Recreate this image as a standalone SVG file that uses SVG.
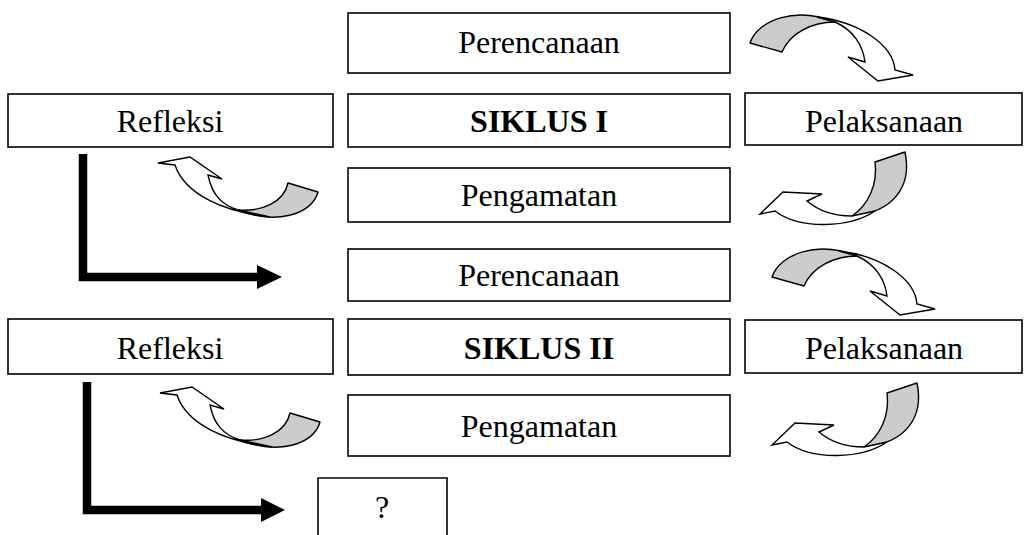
<svg xmlns="http://www.w3.org/2000/svg" xmlns:xlink="http://www.w3.org/1999/xlink" width="1027" height="535" viewBox="0 0 1027 535">
<style>
.box{fill:#fff;stroke:#000;stroke-width:1.6}
.t{font-family:"Liberation Serif","Times New Roman",serif;font-size:32px;fill:#000;text-anchor:middle}
.b{font-weight:bold}
.back{fill:#cccccc;stroke:#000;stroke-width:1.4;stroke-linejoin:round}
.front{fill:#fff;stroke:#000;stroke-width:1.4;stroke-linejoin:miter}
.thick{fill:none;stroke:#000;stroke-width:8.5;stroke-linejoin:miter;stroke-linecap:butt}
</style>
<defs>
<g id="arrA">
<path class="back" d="M750,43 C758,20 795,6 835,22 C812,22 790,33 782,52 Z"/>
<path class="front" d="M817,17 C860,22 893,45 895,70 L913,75 L878,81 L848,57 L865,62 C863,45 853,30 835,22 Z"/>
</g>
<g id="arrB">
<path class="back" d="M875,162 L905,152 C912,185 895,212 852,216 C868,205 878,185 875,162 Z"/>
<path class="front" d="M875,211 C850,228 800,230 775,211 L760,214 L783,192 L822,194 L807,201 C820,212 836,216 852,216 Z"/>
</g>
<g id="arrE">
<path class="back" d="M288,183 L318,192 C312,215 275,225 238,210 C262,212 284,202 288,183 Z"/>
<path class="front" d="M270,217 C225,212 185,195 175,165 L158,163 L190,157 L222,179 L208,175 C212,195 222,205 238,210 Z"/>
</g>
</defs>

<g id="perencanaan1"><rect class="box" x="348" y="13" width="382" height="60"/><text class="t" x="539" y="53">Perencanaan</text></g>
<g id="refleksi1"><rect class="box" x="8" y="94" width="325" height="53"/><text class="t" x="170" y="132">Refleksi</text></g>
<g id="siklus1"><rect class="box" x="348" y="94" width="382" height="53"/><text class="t b" x="539" y="132">SIKLUS I</text></g>
<g id="pelaksanaan1"><rect class="box" x="745" y="93" width="277" height="52"/><text class="t" x="884" y="132">Pelaksanaan</text></g>
<g id="pengamatan1"><rect class="box" x="348" y="168" width="382" height="54"/><text class="t" x="539" y="206">Pengamatan</text></g>
<g id="perencanaan2"><rect class="box" x="348" y="249" width="382" height="52"/><text class="t" x="539" y="286">Perencanaan</text></g>
<g id="refleksi2"><rect class="box" x="8" y="319" width="325" height="55"/><text class="t" x="170" y="359">Refleksi</text></g>
<g id="siklus2"><rect class="box" x="348" y="319" width="382" height="56"/><text class="t b" x="539" y="359">SIKLUS II</text></g>
<g id="pelaksanaan2"><rect class="box" x="745" y="320" width="277" height="53"/><text class="t" x="884" y="359">Pelaksanaan</text></g>
<g id="pengamatan2"><rect class="box" x="348" y="395" width="382" height="61"/><text class="t" x="539" y="437">Pengamatan</text></g>
<g id="next"><path class="box" d="M318,536 V478 H447 V536"/><text class="t" x="382" y="518">?</text></g>

<g id="connectors">
<use xlink:href="#arrA"/>
<use xlink:href="#arrA" transform="translate(22,234)"/>
<use xlink:href="#arrB"/>
<use xlink:href="#arrB" transform="translate(12,231)"/>
<use xlink:href="#arrE"/>
<use xlink:href="#arrE" transform="translate(2,230)"/>
<path class="thick" d="M83,154 V277 H258"/>
<polygon points="257,265 282,277 257,289" fill="#000"/>
<path class="thick" d="M87,382 V510 H262"/>
<polygon points="261,498 285,510 261,522" fill="#000"/>
</g>
</svg>
